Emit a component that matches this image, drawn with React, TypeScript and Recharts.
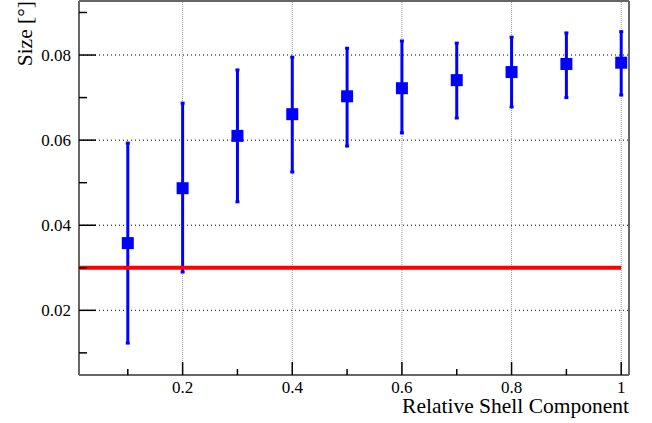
import { ComposedChart, Scatter, ErrorBar, XAxis, YAxis, ReferenceLine, Label } from 'recharts';

const xValues = [0.1, 0.2, 0.3, 0.4, 0.5, 0.6, 0.7, 0.8, 0.9, 1.0];
const sizeValues = [0.0358, 0.0487, 0.061, 0.0661, 0.0703, 0.0722, 0.0741, 0.076, 0.0779, 0.0782];
const sizeUpper = [0.0593, 0.0687, 0.0765, 0.0795, 0.0816, 0.0833, 0.0828, 0.0842, 0.0852, 0.0855];
const sizeLower = [0.0123, 0.029, 0.0455, 0.0525, 0.0586, 0.0617, 0.0652, 0.0678, 0.07, 0.0706];

const limitX = [0, 1.0];
const limitY = 0.03;

const xTicks = [0.1, 0.2, 0.3, 0.4, 0.5, 0.6, 0.7, 0.8, 0.9, 1.0];
const xMajor = [0.2, 0.4, 0.6, 0.8, 1.0];
const xLabels = ['0.2', '0.4', '0.6', '0.8', '1'];
const yTicks = [0.01, 0.02, 0.03, 0.04, 0.05, 0.06, 0.07, 0.08, 0.09];
const yMajor = [0.02, 0.04, 0.06, 0.08];
const yLabels = ['0.02', '0.04', '0.06', '0.08'];

const FONT = '"Liberation Serif", "Times New Roman", serif';
const BLUE = '#0000ff';
const FRAME = '#666666';

// build series from arrays
const points = xValues.map((x, i) => ({
  x,
  y: sizeValues[i],
  err: [sizeValues[i] - sizeLower[i], sizeUpper[i] - sizeValues[i]],
}));
const limitLine = limitX.map(x => ({ x, y: limitY }));

const near = (a: number, b: number) => Math.abs(a - b) < 1e-6;

function XTick({ x, y, payload }: any) {
  const idx = xMajor.findIndex(v => near(v, payload.value));
  const major = idx >= 0;
  return (
    <g>
      <line x1={x} x2={x} y1={y} y2={y - (major ? 13 : 6)} stroke="#000" strokeWidth={1.5} />
      {major && (
        <text x={x} y={y + 17.5} textAnchor="middle" fontFamily={FONT} fontSize={17} fill="#000">
          {xLabels[idx]}
        </text>
      )}
    </g>
  );
}

function YTick({ x, y, payload }: any) {
  const idx = yMajor.findIndex(v => near(v, payload.value));
  const major = idx >= 0;
  return (
    <g>
      <line x1={x} x2={x + (major ? 17 : 8)} y1={y} y2={y} stroke="#000" strokeWidth={1.5} />
      {major && (
        <text x={x - 8} y={y + 6} textAnchor="end" fontFamily={FONT} fontSize={17} fill="#000">
          {yLabels[idx]}
        </text>
      )}
    </g>
  );
}

const Square = ({ cx, cy }: any) => <rect x={cx - 6} y={cy - 6} width={12} height={12} fill={BLUE} />;

export default function App() {
  return (
    <div style={{ position: 'fixed', left: 0, top: 0, background: '#fff' }}>
      <ComposedChart width={652} height={423} margin={{ top: 0, right: 22, bottom: 0, left: 0 }}>
        <XAxis
          xAxisId="b"
          dataKey="x"
          type="number"
          domain={[0.011, 1.0142]}
          allowDataOverflow
          ticks={xTicks}
          tick={<XTick />}
          tickLine={false}
          tickSize={0}
          tickMargin={0}
          height={48}
          axisLine={{ stroke: FRAME, strokeWidth: 2 }}
        >
          <Label
            content={() => (
              <text x={629} y={413} textAnchor="end" fontFamily={FONT} fontSize={21.5} fill="#000">
                Relative Shell Component
              </text>
            )}
          />
        </XAxis>
        <XAxis xAxisId="t" orientation="top" type="number" domain={[0, 1]} tick={false} tickLine={false} height={1} axisLine={{ stroke: FRAME, strokeWidth: 2 }} />
        <YAxis
          yAxisId="l"
          type="number"
          domain={[0.0048, 0.0927]}
          allowDataOverflow
          ticks={yTicks}
          tick={<YTick />}
          tickLine={false}
          tickSize={0}
          tickMargin={0}
          width={79}
          axisLine={{ stroke: FRAME, strokeWidth: 2 }}
        >
          <Label
            content={() => (
              <text x={32} y={1} transform="rotate(-90 32 1)" textAnchor="end" fontFamily={FONT} fontSize={21.5} fill="#000">
                Size [°]
              </text>
            )}
          />
        </YAxis>
        <YAxis yAxisId="r" orientation="right" type="number" domain={[0, 1]} tick={false} tickLine={false} width={1} axisLine={{ stroke: FRAME, strokeWidth: 2 }} />

        {yMajor.map(v => (
          <ReferenceLine key={'h' + v} xAxisId="b" yAxisId="l" y={v} stroke="#000" strokeDasharray="1 3" />
        ))}
        {xMajor.map(v => (
          <ReferenceLine key={'v' + v} xAxisId="b" yAxisId="l" x={v} stroke="#999" strokeDasharray="1 1" />
        ))}

        <Scatter
          xAxisId="b"
          yAxisId="l"
          data={limitLine}
          dataKey="y"
          line={{ stroke: '#ff0000', strokeWidth: 4 }}
          shape={() => <g />}
          isAnimationActive={false}
        />
        <Scatter xAxisId="b" yAxisId="l" data={points} dataKey="y" fill={BLUE} shape={<Square />} isAnimationActive={false}>
          <ErrorBar dataKey="err" direction="y" width={2} stroke={BLUE} strokeWidth={3} isAnimationActive={false} />
        </Scatter>
      </ComposedChart>
    </div>
  );
}
